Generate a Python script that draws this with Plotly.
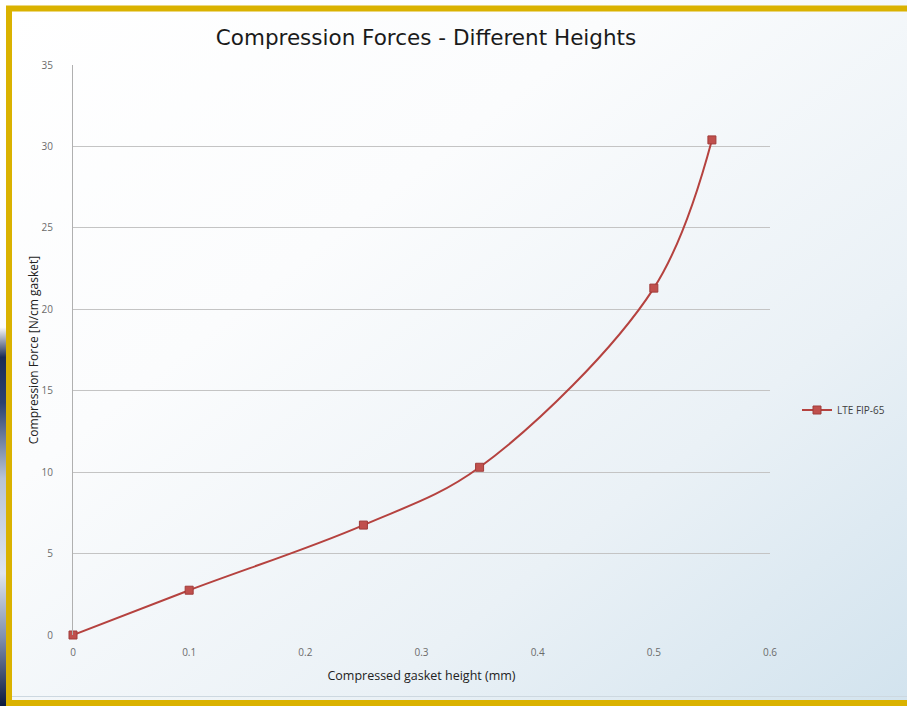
import base64
import plotly.graph_objects as go

# ---- data ----
x_height_mm = [0, 0.1, 0.25, 0.35, 0.5, 0.55]
y_force = [0, 2.75, 6.75, 10.3, 21.3, 30.4]
series_name = "LTE FIP-65"
x_ticks = [0, 0.1, 0.2, 0.3, 0.4, 0.5, 0.6]
x_tick_labels = ["0", "0.1", "0.2", "0.3", "0.4", "0.5", "0.6"]
y_ticks = [0, 5, 10, 15, 20, 25, 30, 35]

W, H = 907, 706
L, R, T, B = 73, 137, 65, 71
pw, ph = W - L - R, H - T - B

svg = f'''<svg xmlns="http://www.w3.org/2000/svg" width="{W}" height="{H}" viewBox="0 0 {W} {H}">
<defs>
<linearGradient id="bg" x1="0" y1="0" x2="1" y2="1">
<stop offset="0" stop-color="#ffffff"/>
<stop offset="0.35" stop-color="#fbfcfd"/>
<stop offset="0.7" stop-color="#eaf1f6"/>
<stop offset="1" stop-color="#d2e3ee"/>
</linearGradient>
<linearGradient id="edge" x1="0" y1="0" x2="0" y2="1">
<stop offset="0" stop-color="#ffffff"/>
<stop offset="0.08" stop-color="#1a2c55"/>
<stop offset="0.2" stop-color="#2b4170"/>
<stop offset="0.4" stop-color="#b8c4d6"/>
<stop offset="0.65" stop-color="#dfe5ee"/>
<stop offset="0.82" stop-color="#7f8fae"/>
<stop offset="1" stop-color="#0b1a3e"/>
</linearGradient>
</defs>
<rect x="0" y="0" width="{W}" height="{H}" fill="url(#bg)"/>
<rect x="0" y="327" width="6.5" height="{H-327}" fill="url(#edge)"/>
<line x1="12" y1="696.5" x2="{W}" y2="696.5" stroke="#cdd8e0" stroke-width="1"/>
<rect x="9" y="8.5" width="1000" height="694.5" fill="none" stroke="#dab200" stroke-width="6"/>
</svg>'''
src = "data:image/svg+xml;base64," + base64.b64encode(svg.encode()).decode()

fig = go.Figure()
fig.add_trace(go.Scatter(
    x=x_height_mm, y=y_force, name=series_name,
    mode="lines+markers", cliponaxis=False,
    line=dict(color="#b5423f", width=2, shape="spline", smoothing=1.0),
    marker=dict(symbol="square", size=8, color="#c0504d",
                line=dict(color="#a03c3a", width=1)),
))

fig.update_layout(
    width=W, height=H,
    margin=dict(l=L, r=R, t=T, b=B, pad=0),
    paper_bgcolor="white",
    plot_bgcolor="rgba(0,0,0,0)",
    font=dict(family="Open Sans, Liberation Sans, sans-serif", size=10, color="#595959"),
    title=dict(text="Compression Forces - Different Heights",
               x=426 / W, xanchor="center",
               y=1 - 37 / H, yanchor="middle", yref="container",
               font=dict(family="DejaVu Sans, Verdana, sans-serif", size=21.5, color="#1a1a1a")),
    showlegend=True,
    legend=dict(x=(797 - L) / pw, y=1 - (410 - T) / ph,
                xanchor="left", yanchor="middle",
                bgcolor="rgba(0,0,0,0)",
                font=dict(size=10, color="#404040")),
    images=[dict(source=src, xref="paper", yref="paper",
                 x=-L / pw, y=1 + T / ph, sizex=W / pw, sizey=H / ph,
                 xanchor="left", yanchor="top", sizing="stretch", layer="below")],
)

fig.update_xaxes(
    range=[0, 0.6], tickvals=x_ticks, ticktext=x_tick_labels,
    showgrid=False, zeroline=False,
    showline=False, ticks="",
    ticklabelstandoff=10,
    tickfont=dict(size=10, color="#6b6b6b"),
    title=dict(text="Compressed gasket height (mm)", standoff=13,
               font=dict(size=12.5, color="#222222")),
)
fig.update_yaxes(
    range=[0, 35], tickvals=y_ticks,
    showgrid=True, gridcolor="#c4c4c4", gridwidth=1,
    zeroline=False,
    showline=True, linecolor="#b0b0b0", linewidth=1,
    ticks="",
    ticklabelstandoff=17,
    tickfont=dict(size=10, color="#6b6b6b"),
    title=dict(text="Compression Force [N/cm gasket]", standoff=0,
               font=dict(size=12, color="#222222")),
)

fig.write_html("out.html", config={"displayModeBar": False},
               post_script="document.body.style.margin='0px';")
